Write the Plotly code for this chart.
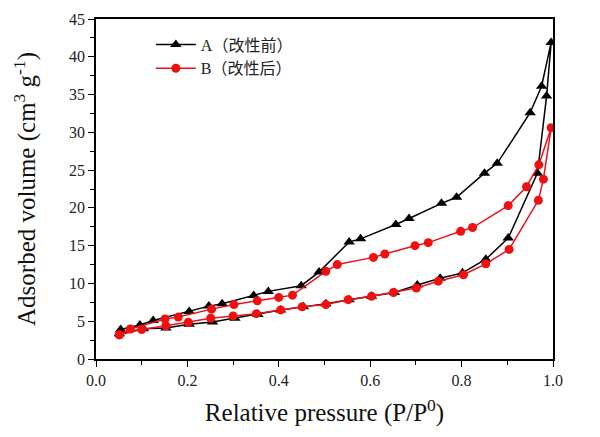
import plotly.graph_objects as go

# Sample A (before modification): adsorption branch then desorption branch
a_x = [0.051, 0.104, 0.153, 0.204, 0.255, 0.304, 0.354, 0.404, 0.454, 0.503, 0.554, 0.603, 0.653, 0.703,
       0.753, 0.802, 0.853, 0.902, 0.966, 0.986, 0.996,
       0.975, 0.950, 0.878, 0.850, 0.789, 0.756, 0.685, 0.656, 0.579, 0.554, 0.488, 0.449, 0.377, 0.345,
       0.276, 0.247, 0.204, 0.125, 0.096, 0.054]
a_y = [3.35, 4.0, 4.1, 4.6, 4.9, 5.4, 5.9, 6.5, 6.9, 7.3, 7.85, 8.3, 8.8, 9.8,
       10.7, 11.4, 13.2, 16.0, 24.6, 34.8, 41.9,
       36.1, 32.6, 25.9, 24.6, 21.4, 20.6, 18.6, 17.8, 15.9, 15.5, 11.5, 9.7, 8.95, 8.4,
       7.3, 7.0, 6.3, 5.1, 4.5, 3.9]

# Sample B (after modification)
b_x = [0.051, 0.100, 0.153, 0.202, 0.251, 0.300, 0.351, 0.404, 0.451, 0.503, 0.552, 0.603, 0.651, 0.701,
       0.749, 0.804, 0.853, 0.904, 0.968, 0.979, 0.996,
       0.969, 0.942, 0.902, 0.824, 0.798, 0.727, 0.698, 0.632, 0.607, 0.528, 0.503, 0.430, 0.400, 0.353,
       0.302, 0.253, 0.180, 0.151, 0.075, 0.051]
b_y = [3.2, 3.9, 4.4, 4.85, 5.4, 5.7, 6.0, 6.5, 6.9, 7.2, 7.85, 8.3, 8.8, 9.4,
       10.3, 11.15, 12.6, 14.5, 21.0, 23.8, 30.6,
       25.7, 22.8, 20.3, 17.4, 16.9, 15.4, 15.0, 13.9, 13.45, 12.5, 11.6, 8.45, 8.15, 7.7,
       7.2, 6.6, 5.55, 5.3, 3.97, 3.2]

series_names = ["A（改性前）", "B（改性后）"]

font_serif = "Times New Roman, Liberation Serif, Noto Sans CJK SC, serif"

fig = go.Figure()
fig.add_trace(go.Scatter(x=a_x, y=a_y, mode="lines+markers", name=series_names[0],
                         line=dict(color="black", width=1.5),
                         marker=dict(symbol="triangle-up", size=10, color="black")))
fig.add_trace(go.Scatter(x=b_x, y=b_y, mode="lines+markers", name=series_names[1],
                         line=dict(color="#e8141c", width=1.5),
                         marker=dict(symbol="circle", size=9, color="#f01010")))

axis_common = dict(showline=True, linecolor="black", linewidth=1.5, mirror=True,
                   ticks="outside", ticklen=6, tickwidth=1, tickcolor="black",
                   showgrid=False, zeroline=False, automargin=False,
                   tickfont=dict(family=font_serif, size=16, color="#222"))

fig.update_xaxes(range=[0, 1], dtick=0.2, tickformat=".1f",
                 minor=dict(ticks="outside", ticklen=4, dtick=0.1, tickcolor="black"),
                 title=dict(text="Relative pressure (P/P<sup>0</sup>)",
                            font=dict(family=font_serif, size=25, color="#111"), standoff=16),
                 **axis_common)
fig.update_yaxes(range=[0, 45], dtick=5,
                 minor=dict(ticks="outside", ticklen=4, dtick=2.5, tickcolor="black"),
                 title=dict(text="Adsorbed volume (cm<sup>3</sup> g<sup>-1</sup>)",
                            font=dict(family=font_serif, size=25, color="#111"), standoff=26),
                 **axis_common)

fig.update_layout(
    width=600, height=437,
    margin=dict(l=88, r=55, t=11, b=86),
    paper_bgcolor="white", plot_bgcolor="white",
    showlegend=True,
    legend=dict(x=0.12, y=0.975, xanchor="left", yanchor="top",
                bgcolor="rgba(0,0,0,0)", borderwidth=0,
                font=dict(family=font_serif, size=16, color="#222"),
                tracegroupgap=2, itemwidth=40),
)

fig.write_html("out.html")
